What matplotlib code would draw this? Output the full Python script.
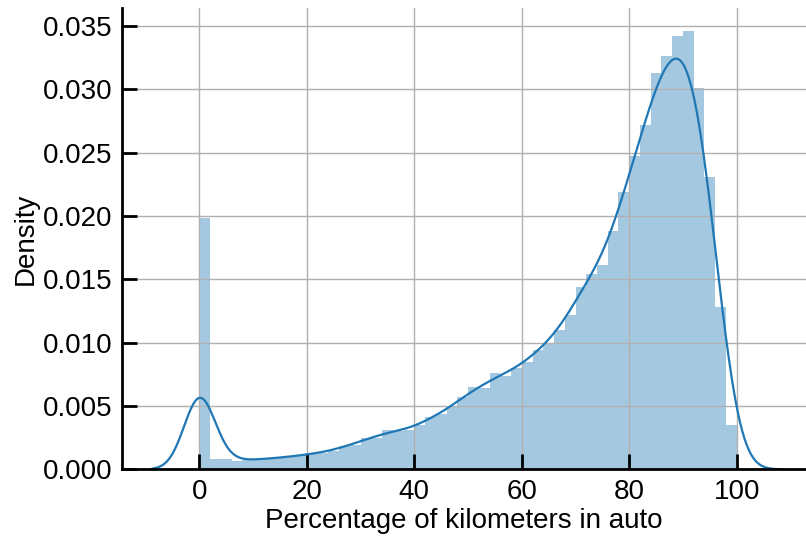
import numpy as np
import matplotlib
matplotlib.use("Agg")
import matplotlib.pyplot as plt

# Histogram of the share of kilometres driven in auto mode (density per 2% bin)
bin_edges = np.linspace(0, 100, 51)
density = [
    0.0198, 0.00081, 0.00078, 0.00068, 0.00072,
    0.00078, 0.00085, 0.00092, 0.00100, 0.00110,
    0.00124, 0.00132, 0.00147, 0.00185, 0.00195,
    0.0025, 0.0025, 0.0031, 0.0030, 0.0031,
    0.0035, 0.0041, 0.0044, 0.0049, 0.0057,
    0.0065, 0.0064, 0.0076, 0.0074, 0.0080,
    0.0085, 0.0094, 0.0100, 0.0110, 0.0122,
    0.0144, 0.0154, 0.0161, 0.0188, 0.0219,
    0.0247, 0.0272, 0.0313, 0.0326, 0.0342,
    0.0346, 0.0301, 0.0231, 0.0128, 0.0035,
]
x_ticks = [0, 20, 40, 60, 80, 100]
y_ticks = [0.000, 0.005, 0.010, 0.015, 0.020, 0.025, 0.030, 0.035]
bandwidth = 2.9

density = np.asarray(density)
widths = np.diff(bin_edges)
mass = density * widths

# Gaussian KDE of the binned data; trips with no auto kilometres sit exactly at 0
centres = bin_edges[:-1] + widths / 2
centres[0] = bin_edges[0]
grid = np.linspace(bin_edges[0] - 3 * bandwidth, bin_edges[-1] + 3 * bandwidth, 600)
z = (grid[:, None] - centres[None, :]) / bandwidth
kde = (mass[None, :] * np.exp(-0.5 * z ** 2)).sum(axis=1) / (bandwidth * np.sqrt(2 * np.pi))

plt.rcParams["font.family"] = ["Liberation Sans", "DejaVu Sans"]

fig = plt.figure(figsize=(8.06, 5.38), dpi=100)
ax = fig.add_axes([0.1514, 0.1277, 0.8486, 0.8573])

blue = "#1f77b4"
ax.bar(bin_edges[:-1], density, width=widths, align="edge", color=blue,
       alpha=0.4, linewidth=0, zorder=1)
ax.plot(grid, kde, color=blue, linewidth=1.6, zorder=3)

ax.set_xlim(-14.4, 112.9)
ax.set_ylim(0, 0.0364)
ax.set_xticks(x_ticks)
ax.set_yticks(y_ticks)
ax.set_yticklabels([f"{v:.3f}" for v in y_ticks])

ax.set_axisbelow(False)
ax.grid(True, color="#b0b0b0", linewidth=1.0)
for gl in ax.get_xgridlines() + ax.get_ygridlines():
    gl.set_zorder(2)

for side in ("top", "right"):
    ax.spines[side].set_visible(False)
for side in ("left", "bottom"):
    ax.spines[side].set_linewidth(2.0)
    ax.spines[side].set_color("black")
    ax.spines[side].set_zorder(4)

ax.tick_params(axis="both", direction="in", length=10.5, width=2.0,
               labelsize=20, pad=7, color="black")

ax.set_xlabel("Percentage of kilometers in auto", fontsize=20, labelpad=2)
ax.set_ylabel("Density", fontsize=20, labelpad=3)

fig.savefig("out.png", dpi=100)
